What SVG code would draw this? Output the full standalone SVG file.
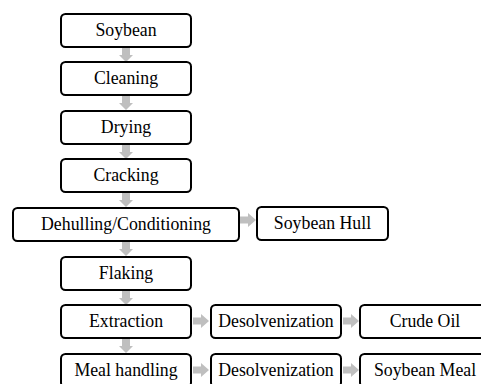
<svg xmlns="http://www.w3.org/2000/svg" xmlns:xlink="http://www.w3.org/1999/xlink" width="481" height="384" viewBox="0 0 481 384">
  <style>
    .box { fill: #ffffff; stroke: #000000; stroke-width: 2; }
    .lbl { font-family: "Liberation Serif", "Times New Roman", serif; font-size: 17.8px; fill: #000000; text-anchor: middle; }
    .arr { fill: #bfbfbf; stroke: none; }
  </style>
  <defs>
    <path id="down" class="arr" d="M-4,0 H4 V7 H7 L0,14 L-7,7 H-4 Z"/>
    <path id="right" class="arr" d="M0,-3.5 H8 V-7 L16,0 L8,7 V3.5 H0 Z"/>
  </defs>
  <rect width="481" height="384" fill="#ffffff"/>

  <g id="connectors">
    <use xlink:href="#down" href="#down" x="126" y="48"/>
    <use xlink:href="#down" href="#down" x="126" y="96"/>
    <use xlink:href="#down" href="#down" x="126" y="145"/>
    <use xlink:href="#down" href="#down" x="126" y="193"/>
    <use xlink:href="#down" href="#down" x="126" y="242"/>
    <use xlink:href="#down" href="#down" x="126" y="291"/>
    <use xlink:href="#down" href="#down" x="126" y="339"/>
    <use xlink:href="#right" href="#right" x="240" y="220"/>
    <use xlink:href="#right" href="#right" x="193" y="321"/>
    <use xlink:href="#right" href="#right" x="343" y="321"/>
    <use xlink:href="#right" href="#right" x="193" y="370"/>
    <use xlink:href="#right" href="#right" x="343" y="370"/>
  </g>

  <g id="soybean">
    <rect class="box" x="61" y="14" width="130" height="33" rx="4.5"/>
    <text class="lbl" x="126" y="36">Soybean</text>
  </g>
  <g id="cleaning">
    <rect class="box" x="61" y="62" width="130" height="33" rx="4.5"/>
    <text class="lbl" x="126" y="84">Cleaning</text>
  </g>
  <g id="drying">
    <rect class="box" x="61" y="111" width="130" height="33" rx="4.5"/>
    <text class="lbl" x="126" y="133">Drying</text>
  </g>
  <g id="cracking">
    <rect class="box" x="61" y="159" width="130" height="33" rx="4.5"/>
    <text class="lbl" x="126" y="181">Cracking</text>
  </g>
  <g id="dehulling">
    <rect class="box" x="13" y="208" width="226" height="33" rx="4.5"/>
    <text class="lbl" x="126" y="230">Dehulling/Conditioning</text>
  </g>
  <g id="soybean-hull">
    <rect class="box" x="257" y="207" width="131" height="33" rx="4.5"/>
    <text class="lbl" x="322.5" y="229">Soybean Hull</text>
  </g>
  <g id="flaking">
    <rect class="box" x="61" y="257" width="130" height="33" rx="4.5"/>
    <text class="lbl" x="126" y="279">Flaking</text>
  </g>
  <g id="extraction">
    <rect class="box" x="61" y="305" width="130" height="33" rx="4.5"/>
    <text class="lbl" x="126" y="327">Extraction</text>
  </g>
  <g id="desolvenization-1">
    <rect class="box" x="211" y="305" width="130" height="33" rx="4.5"/>
    <text class="lbl" x="276" y="327">Desolvenization</text>
  </g>
  <g id="crude-oil">
    <rect class="box" x="360" y="305" width="130" height="33" rx="4.5"/>
    <text class="lbl" x="425" y="327">Crude Oil</text>
  </g>
  <g id="meal-handling">
    <rect class="box" x="61" y="354" width="130" height="33" rx="4.5"/>
    <text class="lbl" x="126" y="376">Meal handling</text>
  </g>
  <g id="desolvenization-2">
    <rect class="box" x="211" y="354" width="130" height="33" rx="4.5"/>
    <text class="lbl" x="276" y="376">Desolvenization</text>
  </g>
  <g id="soybean-meal">
    <rect class="box" x="360" y="354" width="130" height="33" rx="4.5"/>
    <text class="lbl" x="425" y="376">Soybean Meal</text>
  </g>
</svg>
